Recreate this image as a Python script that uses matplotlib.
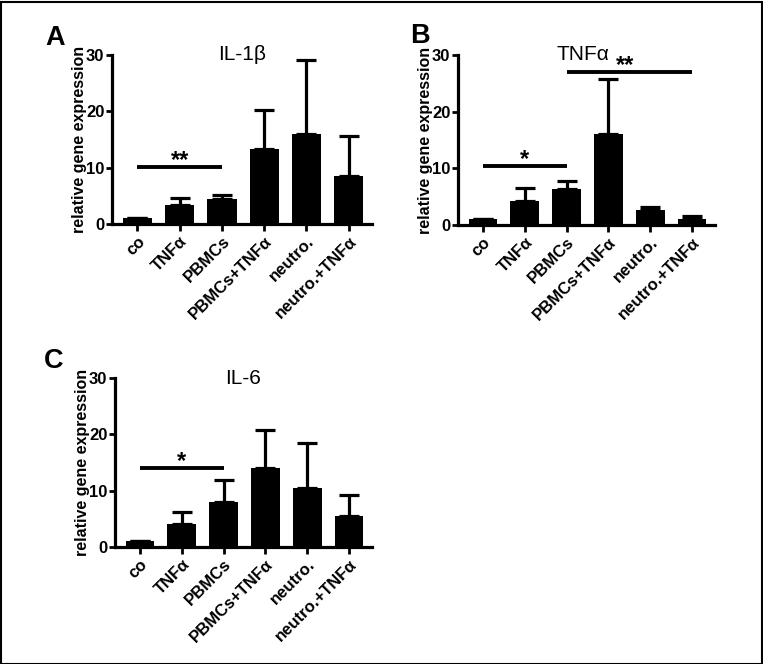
import matplotlib
matplotlib.use("Agg")
import matplotlib.pyplot as plt
from matplotlib.patches import Rectangle
from matplotlib.transforms import ScaledTranslation

plt.rcParams['font.family'] = ['Liberation Sans', 'DejaVu Sans']

categories = ["co", "TNFα", "PBMCs", "PBMCs+TNFα", "neutro.", "neutro.+TNFα"]

il1b_mean = [1.0, 3.4, 4.4, 13.3, 15.9, 8.5]
il1b_err = [0.0, 1.2, 0.7, 6.9, 13.3, 7.1]

tnfa_mean = [1.0, 4.2, 6.3, 16.0, 2.6, 1.1]
tnfa_err = [0.0, 2.3, 1.5, 9.7, 0.6, 0.5]

il6_mean = [1.0, 4.0, 8.0, 14.1, 10.5, 5.5]
il6_err = [0.0, 2.2, 3.9, 6.7, 8.0, 3.8]

yticks = [0, 10, 20, 30]

W, H = 763, 664
fig = plt.figure(figsize=(W / 100, H / 100), dpi=100)


def px_axes(left, top, right, bottom):
    return fig.add_axes([left / W, 1 - bottom / H, (right - left) / W, (bottom - top) / H])


def draw_panel(ax, means, errs, title, title_x):
    x = list(range(len(categories)))
    ax.bar(x, means, width=0.69, color="black", zorder=2)
    ax.errorbar(x, means, yerr=[[0] * len(errs), errs], fmt="none", ecolor="black",
                elinewidth=2.3, capsize=7.2, capthick=2.3, zorder=1)
    ax.set_xlim(-0.6, 5.55)
    ax.set_ylim(0, 30)
    ax.set_yticks(yticks)
    ax.set_yticklabels([str(t) for t in yticks], fontweight="bold", fontsize=12)
    ax.set_xticks(x)
    ax.set_xticklabels(categories, rotation=45, ha="right", rotation_mode="anchor",
                       fontweight="bold", fontsize=12)
    off = ScaledTranslation(4 / 100, 0, fig.dpi_scale_trans)
    for lab in ax.get_xticklabels():
        lab.set_transform(lab.get_transform() + off)
    for s in ["top", "right"]:
        ax.spines[s].set_visible(False)
    for s in ["left", "bottom"]:
        ax.spines[s].set_linewidth(2.3)
    ax.tick_params(axis="y", width=2.0, length=4, pad=1.5)
    ax.tick_params(axis="x", width=2.0, length=5, pad=2)
    ax.set_ylabel("relative gene expression", fontweight="bold", fontsize=11.5, labelpad=-1)
    ax.text(title_x, 30, title, ha="center", va="center", fontsize=15)


def sig(ax, x0, x1, y, label, tx=None, dy=-0.95):
    ax.plot([x0, x1], [y, y], color="black", lw=2.8, clip_on=False, solid_capstyle="butt")
    if tx is None:
        tx = (x0 + x1) / 2
    ax.text(tx, y + dy, label, ha="center", va="bottom", fontsize=17, fontweight="bold")


def letter(px, py, s):
    fig.text(px / W, 1 - py / H, s, fontsize=19.5, fontweight="bold", ha="left", va="center")


axA = px_axes(112, 55, 372, 224)
draw_panel(axA, il1b_mean, il1b_err, "IL-1β", 2.47)
sig(axA, 0, 2, 10.2, "**")
letter(45, 38, "A")

axB = px_axes(458, 55, 715, 225)
draw_panel(axB, tnfa_mean, tnfa_err, "TNFα", 2.4)
sig(axB, 0, 2, 10.5, "*")
sig(axB, 2, 5, 27.0, "**", tx=3.4)
letter(410, 36, "B")

axC = px_axes(115, 378, 372, 547)
draw_panel(axC, il6_mean, il6_err, "IL-6", 2.47)
sig(axC, 0, 2, 14.0, "*")
letter(44, 361, "C")

fig.patches.append(Rectangle((0.5 / W, 0.5 / H), (W - 2) / W, (H - 2) / H, transform=fig.transFigure,
                             fill=False, edgecolor="black", linewidth=1.5))

fig.savefig("out.png", dpi=100)
